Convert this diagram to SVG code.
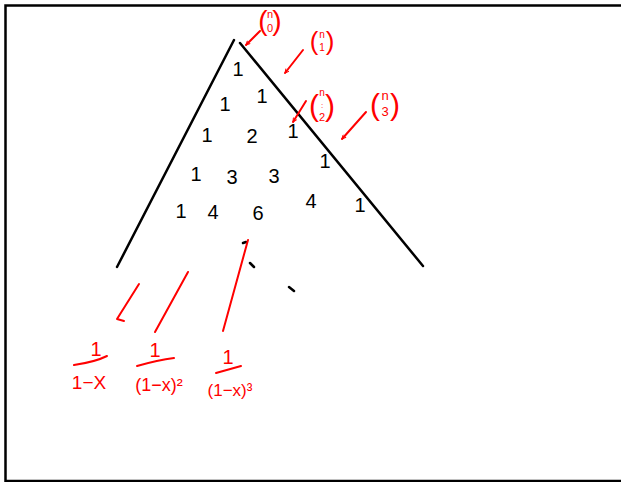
<svg xmlns="http://www.w3.org/2000/svg" width="621" height="482" viewBox="0 0 621 482">
<style>
.blk{stroke:#000;stroke-width:2.5;fill:none;stroke-linecap:round}
.red{stroke:#f00;stroke-width:2;fill:none;stroke-linecap:round;stroke-linejoin:round}
.num{font-family:"Liberation Sans",Arial,sans-serif;font-size:20px;fill:#000;text-anchor:middle}
.rt{font-family:"Liberation Sans",Arial,sans-serif;fill:#f00;text-anchor:middle}
</style>
<defs>
<marker id="ah" viewBox="0 0 10 10" refX="9" refY="5" markerWidth="5" markerHeight="5" orient="auto" markerUnits="userSpaceOnUse">
<path d="M1,1 L9,5 L1,9" fill="none" stroke="#f00" stroke-width="2"/>
</marker>
</defs>
<rect x="0" y="0" width="621" height="482" fill="#fff"/>
<rect x="5.5" y="5.5" width="640" height="475.5" fill="none" stroke="#000" stroke-width="2.5"/>

<g id="triangle">
<line class="blk" x1="234" y1="40" x2="117" y2="267"/>
<line class="blk" x1="240" y1="43" x2="423" y2="266"/>
<path class="blk" d="M243,243 l3,-1 M250,263 l4,4 M289,287 l5,4"/>
</g>

<g id="numbers">
<text class="num" x="238" y="76">1</text>
<text class="num" x="225" y="111">1</text>
<text class="num" x="262" y="103">1</text>
<text class="num" x="207" y="142">1</text>
<text class="num" x="252" y="143">2</text>
<text class="num" x="293" y="138">1</text>
<text class="num" x="196" y="181">1</text>
<text class="num" x="232" y="184">3</text>
<text class="num" x="274" y="183">3</text>
<text class="num" x="325" y="168">1</text>
<text class="num" x="181" y="218">1</text>
<text class="num" x="213" y="219">4</text>
<text class="num" x="258" y="220">6</text>
<text class="num" x="311" y="208">4</text>
<text class="num" x="360" y="212">1</text>
</g>

<g id="binom0">
<text class="rt" x="263" y="30" font-size="28">(</text>
<text class="rt" x="277" y="30" font-size="28">)</text>
<text class="rt" x="270" y="18" font-size="11">n</text>
<text class="rt" x="270" y="32" font-size="11">0</text>
</g>
<g id="binom1">
<text class="rt" x="314" y="50" font-size="26">(</text>
<text class="rt" x="330" y="50" font-size="26">)</text>
<text class="rt" x="322" y="38" font-size="10">n</text>
<text class="rt" x="322" y="51" font-size="10">1</text>
</g>
<g id="binom2">
<text class="rt" x="314" y="116" font-size="30">(</text>
<text class="rt" x="330" y="116" font-size="30">)</text>
<text class="rt" x="322" y="96" font-size="10">n</text>
<text class="rt" x="322" y="108" font-size="8">:</text>
<text class="rt" x="322" y="121" font-size="11">2</text>
</g>
<g id="binom3">
<text class="rt" x="375" y="115" font-size="30">(</text>
<text class="rt" x="395" y="115" font-size="30">)</text>
<text class="rt" x="385" y="100" font-size="13">n</text>
<text class="rt" x="385" y="116" font-size="13">3</text>
</g>

<g id="connectors">
<line class="red" x1="260" y1="31" x2="246" y2="45" marker-end="url(#ah)"/>
<line class="red" x1="303" y1="50" x2="285" y2="73" marker-end="url(#ah)"/>
<line class="red" x1="306" y1="101" x2="293" y2="122" marker-end="url(#ah)"/>
<line class="red" x1="366" y1="112" x2="342" y2="139" marker-end="url(#ah)"/>
<path class="red" d="M139,284 L117,319 L124,321"/>
<line class="red" x1="188" y1="272" x2="155" y2="332"/>
<line class="red" x1="248" y1="240" x2="223" y2="331"/>
</g>

<g id="frac1">
<text class="rt" x="96" y="356" font-size="20">1</text>
<path class="red" d="M74,365 Q95,362 107,356"/>
<text class="rt" x="89" y="389" font-size="19">1−X</text>
</g>
<g id="frac2">
<text class="rt" x="155" y="357" font-size="20">1</text>
<path class="red" d="M137,366 Q158,360 174,358"/>
<text class="rt" x="159" y="391" font-size="18">(1−x)²</text>
</g>
<g id="frac3">
<text class="rt" x="228" y="364" font-size="20">1</text>
<path class="red" d="M216,373 L241,366"/>
<text class="rt" x="230" y="396" font-size="17">(1−x)³</text>
</g>
</svg>
